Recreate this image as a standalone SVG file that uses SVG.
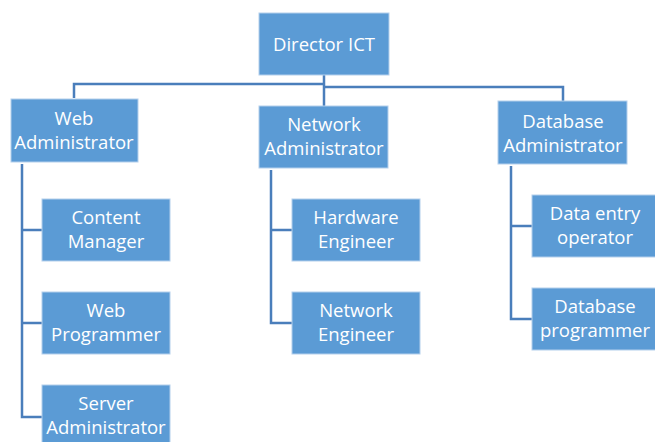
<svg xmlns="http://www.w3.org/2000/svg" width="655" height="442" viewBox="0 0 655 442">
  <style>
    .box { fill: #5B9BD5; stroke: #B4CFEC; stroke-width: 1; }
    .lbl { font-family: "Open Sans", "Liberation Sans", sans-serif; font-size: 18.5px; fill: #FFFFFF; text-anchor: middle; }
    .wire { fill: none; stroke: #4A7EBB; stroke-width: 2.5; stroke-linejoin: miter; }
  </style>
  <rect width="655" height="442" fill="#FFFFFF"/>

  <g id="connectors">
    <!-- top level -->
    <path class="wire" d="M324 75 V106"/>
    <path class="wire" d="M74 98 V84 H324"/>
    <path class="wire" d="M324 87 H563 V101"/>
    <!-- web branch -->
    <path class="wire" d="M22 164 V417 H42 M22 230 H42 M22 323 H42"/>
    <!-- network branch -->
    <path class="wire" d="M271 170 V323 H292 M271 230 H292"/>
    <!-- database branch -->
    <path class="wire" d="M511 166 V319 H532 M511 226 H532"/>
  </g>

  <g id="director-ict">
    <rect class="box" x="259" y="13" width="130" height="62"/>
    <text class="lbl" x="324" y="51">Director ICT</text>
  </g>

  <g id="web-administrator">
    <rect class="box" x="11" y="99" width="127" height="63"/>
    <text class="lbl" x="74" y="125">Web</text>
    <text class="lbl" x="74" y="149">Administrator</text>
  </g>

  <g id="network-administrator">
    <rect class="box" x="259" y="106" width="129" height="62"/>
    <text class="lbl" x="324" y="131">Network</text>
    <text class="lbl" x="324" y="155">Administrator</text>
  </g>

  <g id="database-administrator">
    <rect class="box" x="498" y="101" width="129" height="63"/>
    <text class="lbl" x="563" y="128">Database</text>
    <text class="lbl" x="563" y="152">Administrator</text>
  </g>

  <g id="content-manager">
    <rect class="box" x="42" y="199" width="128" height="62"/>
    <text class="lbl" x="106" y="224">Content</text>
    <text class="lbl" x="106" y="248">Manager</text>
  </g>

  <g id="web-programmer">
    <rect class="box" x="42" y="292" width="128" height="62"/>
    <text class="lbl" x="106" y="317">Web</text>
    <text class="lbl" x="106" y="341">Programmer</text>
  </g>

  <g id="server-administrator">
    <rect class="box" x="42" y="385" width="128" height="62"/>
    <text class="lbl" x="106" y="410">Server</text>
    <text class="lbl" x="106" y="434">Administrator</text>
  </g>

  <g id="hardware-engineer">
    <rect class="box" x="292" y="199" width="128" height="62"/>
    <text class="lbl" x="356" y="224">Hardware</text>
    <text class="lbl" x="356" y="248">Engineer</text>
  </g>

  <g id="network-engineer">
    <rect class="box" x="292" y="292" width="128" height="62"/>
    <text class="lbl" x="356" y="317">Network</text>
    <text class="lbl" x="356" y="341">Engineer</text>
  </g>

  <g id="data-entry-operator">
    <rect class="box" x="532" y="195" width="128" height="62"/>
    <text class="lbl" x="595" y="220">Data entry</text>
    <text class="lbl" x="595" y="244">operator</text>
  </g>

  <g id="database-programmer">
    <rect class="box" x="532" y="288" width="128" height="62"/>
    <text class="lbl" x="595" y="313">Database</text>
    <text class="lbl" x="595" y="337">programmer</text>
  </g>
</svg>
